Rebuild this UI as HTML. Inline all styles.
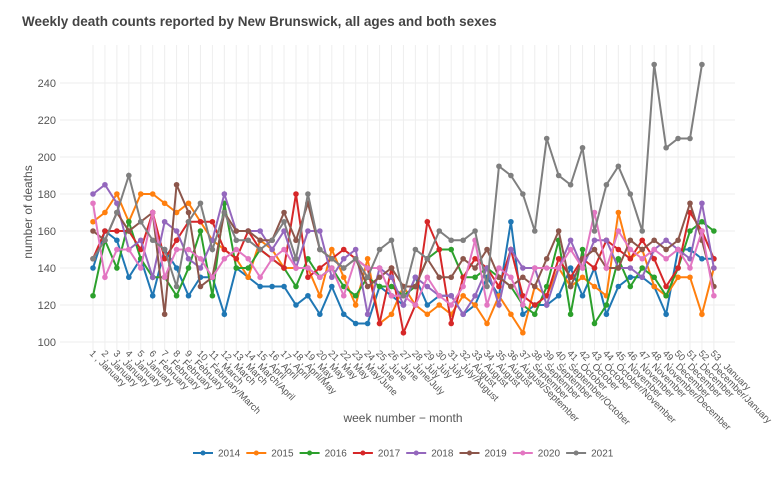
<!DOCTYPE html>
<html><head><meta charset="utf-8"><style>
body{margin:0;background:#fff;width:780px;height:473px;overflow:hidden;font-family:"Liberation Sans",sans-serif}
</style></head><body>
<svg id="s" width="780" height="473" xmlns="http://www.w3.org/2000/svg" font-family="Liberation Sans, sans-serif">
<text x="22" y="26" font-size="13.5" font-weight="bold" fill="#444">Weekly death counts reported by New Brunswick, all ages and both sexes</text>
<text transform="translate(32,212) rotate(-90)" font-size="12" fill="#555" text-anchor="middle">number of deaths</text>
<text x="403" y="422" font-size="12" fill="#555" text-anchor="middle">week number − month</text>
</svg>
<script>
const s=document.getElementById('s');const NS='http://www.w3.org/2000/svg';
function el(t,a,txt){const e=document.createElementNS(NS,t);for(const k in a)e.setAttribute(k,a[k]);if(txt!=null)e.textContent=txt;s.appendChild(e);return e;}
const X=n=>93+(n-1)*11.94, Y=v=>342-(v-100)*1.85;
for(let v=100;v<=240;v+=20){el('line',{x1:60,x2:735,y1:Y(v),y2:Y(v),stroke:'#eee'});el('text',{x:56,y:Y(v)+4,'font-size':11,fill:'#555','text-anchor':'end'},v);}
const m=["January","January","January","January","January","February","February","February","February","February/March","March","March","March","March/April","April","April","April","April/May","May","May","May","May","May/June","June","June","June","June/July","July","July","July","July/August","August","August","August","August","August/September","September","September","September","September/October","October","October","October","October/November","November","November","November","November/December","December","December","December","December/January","January"];
for(let n=1;n<=53;n++){el('line',{x1:X(n),x2:X(n),y1:45,y2:350,stroke:'#eee'});
el('text',{transform:`translate(${X(n)-4},354) rotate(45)`,'font-size':9.5,fill:'#555'},n+' , '+m[n-1]);}
const D={
'#1f77b4':[140,160,155,135,145,125,150,140,125,135,135,115,140,135,130,130,130,120,125,115,130,115,110,110,130,125,120,135,120,125,125,115,120,135,125,165,115,120,120,125,140,125,140,115,130,135,135,130,115,150,150,145,145],
'#ff7f0e':[165,170,180,165,180,180,175,170,175,165,155,150,145,135,155,150,140,140,140,125,150,135,120,145,110,115,130,120,115,120,115,125,120,110,125,115,105,130,125,140,130,135,130,125,170,145,150,130,125,135,135,115,140],
'#2ca02c':[125,155,140,165,145,135,135,125,140,160,125,175,140,140,150,145,140,130,145,135,140,130,125,135,130,130,125,130,145,150,150,135,135,140,135,130,120,115,130,155,115,150,110,120,145,130,140,135,125,140,160,165,160],
'#d62728':[145,160,160,160,150,170,145,155,165,165,165,150,145,160,150,145,140,180,135,140,145,150,145,140,110,140,105,120,165,150,110,135,145,140,130,150,125,120,125,145,135,145,140,155,150,145,155,145,130,140,170,160,145],
'#9467bd':[180,185,175,150,155,135,165,160,145,140,155,180,160,160,160,150,160,140,160,160,135,145,150,115,140,135,120,135,130,125,125,115,125,140,120,150,140,140,120,140,155,140,155,155,140,140,135,150,155,150,145,175,140],
'#8c564b':[160,155,170,160,165,170,115,185,170,130,135,170,160,160,155,155,170,155,175,150,145,140,145,130,135,140,130,130,145,135,135,145,140,150,135,130,135,130,145,160,130,145,150,140,140,155,150,155,150,155,175,155,130],
'#e377c2':[175,135,150,150,140,170,135,150,150,145,135,145,150,145,135,145,150,140,140,135,140,125,145,140,140,125,125,120,135,125,120,130,155,120,140,135,120,140,140,140,150,140,170,140,160,150,145,150,145,150,140,160,125],
'#7f7f7f':[145,155,170,190,165,155,150,130,165,175,150,170,155,155,150,155,165,145,180,150,145,140,145,135,150,155,125,150,145,160,155,155,160,130,195,190,180,160,210,190,185,205,160,185,195,180,160,250,205,210,210,250]};
for(const c in D){const p=D[c].map((v,i)=>X(i+1)+','+Y(v)).join(' ');el('polyline',{points:p,fill:'none',stroke:c,'stroke-width':2});
D[c].forEach((v,i)=>el('circle',{cx:X(i+1),cy:Y(v),r:2.8,fill:c}));}
const yrs=['2014','2015','2016','2017','2018','2019','2020','2021'];let lx=193;
Object.keys(D).forEach((c,i)=>{const x=lx+i*53.3;el('line',{x1:x,x2:x+20,y1:453,y2:453,stroke:c,'stroke-width':2});el('circle',{cx:x+10,cy:453,r:2.5,fill:c});el('text',{x:x+25,y:456.5,'font-size':10,fill:'#555'},yrs[i]);});
</script>
</body></html>
